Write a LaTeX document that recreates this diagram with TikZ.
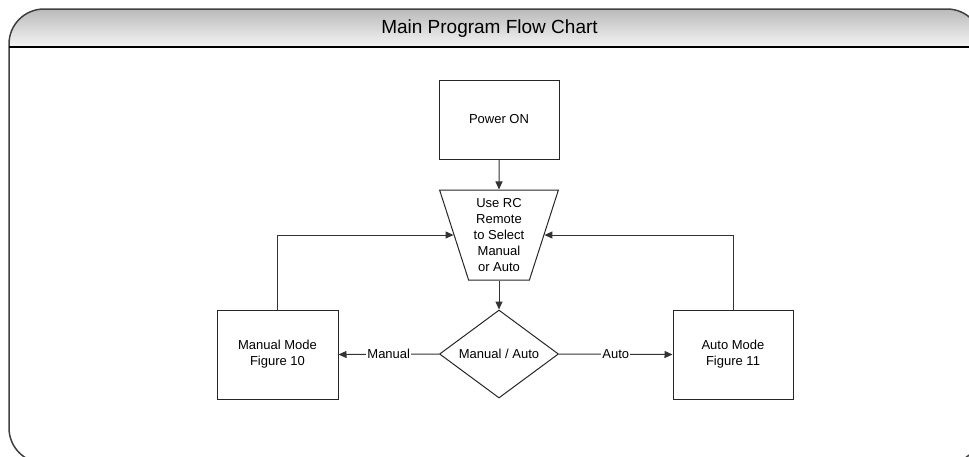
\documentclass[tikz,border=0pt]{standalone}
\usepackage{fontspec}
\setmainfont{Liberation Sans}
\usetikzlibrary{shapes.geometric,arrows.meta}
\tikzset{
  box/.style={draw=black!85, line width=1pt, minimum width=120pt, minimum height=79pt, inner sep=0pt, align=center, font=\fontsize{13}{16}\selectfont},
  trap/.style={draw=black!85, line width=1pt, trapezium, trapezium angle=71.57, trapezium stretches=true, shape border rotate=180, minimum width=119pt, minimum height=90pt, inner sep=0pt, align=center, font=\fontsize{13}{15.8}\selectfont},
  dec/.style={draw=black!85, line width=1pt, diamond, minimum width=119pt, minimum height=88pt, inner sep=0pt, aspect=1.35, font=\fontsize{13}{15}\selectfont},
  conn/.style={draw=black!80, line width=1pt, -{Triangle[length=8pt,width=7pt]}},
  lbl/.style={fill=white, inner sep=1pt, font=\fontsize{13}{15}\selectfont},
}
\begin{document}
\begin{tikzpicture}[x=1pt,y=-1pt]
\useasboundingbox (0,0) rectangle (969,456);
\begin{scope}
\clip (0,0) rectangle (969,456);
% title bar
\shade[top color=black!27, bottom color=black!4]
  (9,47) -- (9,44) arc[start angle=180,end angle=90,x radius=35,y radius=-35] -- (947,9)
  arc[start angle=90,end angle=0,x radius=35,y radius=-35] -- (982,47) -- cycle;
\draw[black!75, line width=1.5pt, rounded corners=35pt] (9,9) rectangle (982,463);
\draw[black, line width=1.2pt] (9,47) -- (982,47);
\end{scope}
\node[font=\fontsize{19}{21}\selectfont] (title) at (489.5,29) {Main Program Flow Chart};
% nodes
\node[box] (pow) at (499,119.5) {Power ON};
\node[trap] (sel) at (499,235) {Use RC\\Remote\\to Select\\Manual\\or Auto};
\node[dec] (dia) at (499,354) {Manual / Auto};
\node[box, minimum width=121pt, minimum height=89pt] (man) at (277.5,354.5) {Manual Mode\\Figure 10};
\node[box, minimum width=120pt, minimum height=89pt] (aut) at (733,354.5) {Auto Mode\\Figure 11};
% connectors
\draw[conn] (pow) -- (sel);
\draw[conn] (sel.south) -- (dia.north);
\draw[conn] (dia.west) -- node[lbl] {Manual} (man.east);
\draw[conn] (dia.east) -- node[lbl] {Auto} (aut.west);
\draw[conn] (man.north) |- (sel.west);
\draw[conn] (aut.north) |- (sel.east);
\end{tikzpicture}
\end{document}
